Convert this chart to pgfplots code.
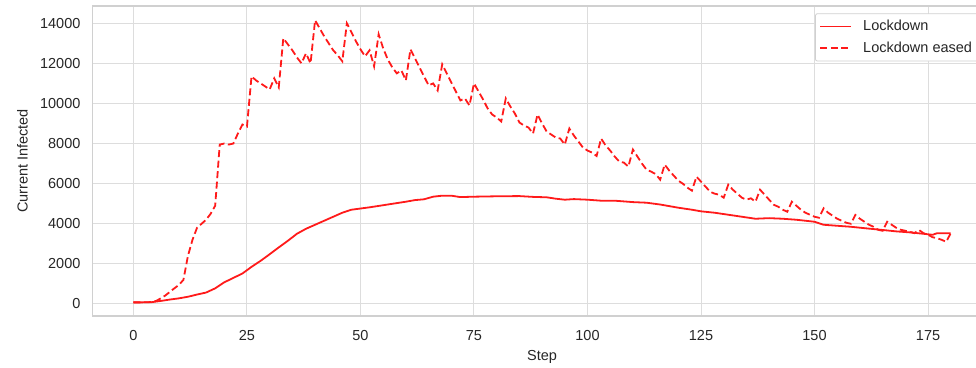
\documentclass[border=0pt]{standalone}
\usepackage{fontspec}
\setmainfont{Liberation Sans}
\usepackage{pgfplots}
\pgfplotsset{compat=1.18}
\definecolor{txt}{HTML}{262626}
\definecolor{grd}{HTML}{DDDDDD}
\definecolor{spn}{HTML}{D0D0D0}
\definecolor{lred}{HTML}{FF1A1A}
\begin{document}
\fontsize{14.5bp}{17bp}\selectfont
\begin{tikzpicture}
\begin{axis}[
  at={(0,0)}, anchor=south west,
  width=899bp, height=310bp, scale only axis,
  xmin=-9, xmax=189, ymin=-600, ymax=14860,
  xtick={0,25,50,75,100,125,150,175},
  ytick={0,2000,4000,6000,8000,10000,12000,14000},
  scaled y ticks=false,
  /pgf/number format/1000 sep={},
  /pgf/number format/assume math mode=true,
  grid=major,
  grid style={grd, line width=1bp},
  axis line style={spn, line width=1.2bp},
  major tick length=0pt,
  tick label style={font=\fontsize{14.5bp}{17bp}\selectfont, text=txt, inner sep=0pt},
  xticklabel shift=14bp,
  yticklabel shift=12bp,
  xlabel={Step}, ylabel={Current Infected},
  label style={font=\fontsize{14.5bp}{17bp}\selectfont, text=txt},
  xlabel style={at={(axis description cs:0.5,0)}, anchor=north, inner sep=0pt, yshift=-34bp},
  ylabel style={at={(axis description cs:-0.078,0.5)}, anchor=center, inner sep=0pt},
  legend style={at={(rel axis cs:0.8036,0.9765)}, anchor=north west,
    draw=spn, fill=white, rounded corners=2bp, line width=0.8bp,
    font=\fontsize{14.5bp}{17bp}\selectfont, text=txt,
    inner xsep=4bp, inner ysep=4.5bp, row sep=5bp,
    nodes={inner sep=2bp}},
  legend cell align=left,
  legend image code/.code={\draw[#1] (0bp,0bp) -- (31bp,0bp); \path (40bp,0bp);},
]
\addplot[lred, line width=1.8bp] coordinates {
(0,80) (2,80) (4,90) (6,150) (8,220) (10,280) (12,360) (14,470) (16,570) (18,780)
(20,1080) (22,1300) (24,1520) (26,1850) (28,2150) (30,2480) (32,2820) (34,3150)
(36,3500) (38,3750) (40,3950) (42,4150) (44,4350) (46,4550) (48,4700) (50,4760)
(52,4820) (54,4890) (56,4960) (58,5030) (60,5100) (62,5180) (64,5220) (66,5350)
(68,5400) (70,5400) (72,5330) (75,5350) (80,5370) (85,5380) (88,5340) (91,5320)
(93,5250) (95,5200) (97,5230) (100,5200) (103,5150) (106,5150) (110,5080) (113,5050)
(116,4960) (120,4800) (123,4700) (125,4620) (128,4550) (131,4450) (134,4350)
(137,4250) (140,4280) (143,4250) (146,4200) (150,4100) (152,3950) (155,3900)
(158,3850) (161,3780) (165,3690) (168,3620) (171,3570) (174,3500) (176,3450)
(177,3530) (180,3530)
};
\addlegendentry{Lockdown}
\addplot[lred, line width=1.8bp, dash pattern=on 7bp off 3.5bp] coordinates {
(0,80) (1,80) (2,80) (3,85) (4,100) (5,150) (6,280) (7,420) (8,600) (9,780)
(10,950) (11,1200) (12,2400) (13,3200) (14,3800) (15,4000) (16,4200) (17,4500)
(18,4900) (19,7950) (20,8000) (21,7950) (22,8000) (23,8500) (24,8950) (25,8850)
(26,11350) (27,11150) (28,11000) (29,10850) (30,10700) (31,11250) (32,10800)
(33,13250) (34,12950) (35,12650) (36,12300) (37,12000) (38,12500) (39,12000)
(40,14150) (41,13750) (42,13350) (43,13000) (44,12650) (45,12400) (46,12100)
(47,14000) (48,13550) (49,13100) (50,12700) (51,12350) (52,12650) (53,11850)
(54,13450) (55,12750) (56,12200) (57,11800) (58,11500) (59,11650) (60,11150)
(61,12700) (62,12250) (63,11800) (64,11350) (65,10900) (66,11000) (67,10650)
(68,11950) (69,11500) (70,11050) (71,10600) (72,10150) (73,10250) (74,9900)
(75,11000) (76,10600) (77,10200) (78,9750) (79,9450) (80,9300) (81,9100)
(82,10250) (83,9850) (84,9500) (85,9050) (86,8900) (87,8800) (88,8500)
(89,9450) (90,9000) (91,8600) (92,8450) (93,8300) (94,8250) (95,7950)
(96,8750) (97,8400) (98,8100) (99,7800) (100,7650) (101,7550) (102,7380)
(103,8250) (104,7900) (105,7650) (106,7350) (107,7100) (108,7050) (109,6850)
(110,7700) (111,7350) (112,7000) (113,6700) (114,6600) (115,6480) (116,6200)
(117,6950) (118,6650) (119,6400) (120,6150) (121,6000) (122,5800) (123,5650)
(124,6350) (125,6100) (126,5850) (127,5600) (128,5500) (129,5450) (130,5300)
(131,5950) (132,5700) (133,5500) (134,5300) (135,5200) (136,5270) (137,5100)
(138,5700) (139,5450) (140,5200) (141,4950) (142,4850) (143,4700) (144,4600)
(145,5100) (146,4900) (147,4700) (148,4550) (149,4450) (150,4350) (151,4300)
(152,4770) (153,4550) (154,4400) (155,4250) (156,4150) (157,4050) (158,4000)
(159,4440) (160,4250) (161,4100) (162,3950) (163,3850) (164,3700) (165,3650)
(166,4100) (167,3950) (168,3800) (169,3700) (170,3650) (171,3600) (172,3530)
(173,3690) (174,3530) (175,3450) (176,3330) (177,3280) (178,3200) (179,3100)
(180,3530)
};
\addlegendentry{Lockdown eased}
\end{axis}
\pgfresetboundingbox
\path[use as bounding box] (-92.6bp,-52bp) rectangle (883.4bp,316bp);
\end{tikzpicture}
\end{document}
